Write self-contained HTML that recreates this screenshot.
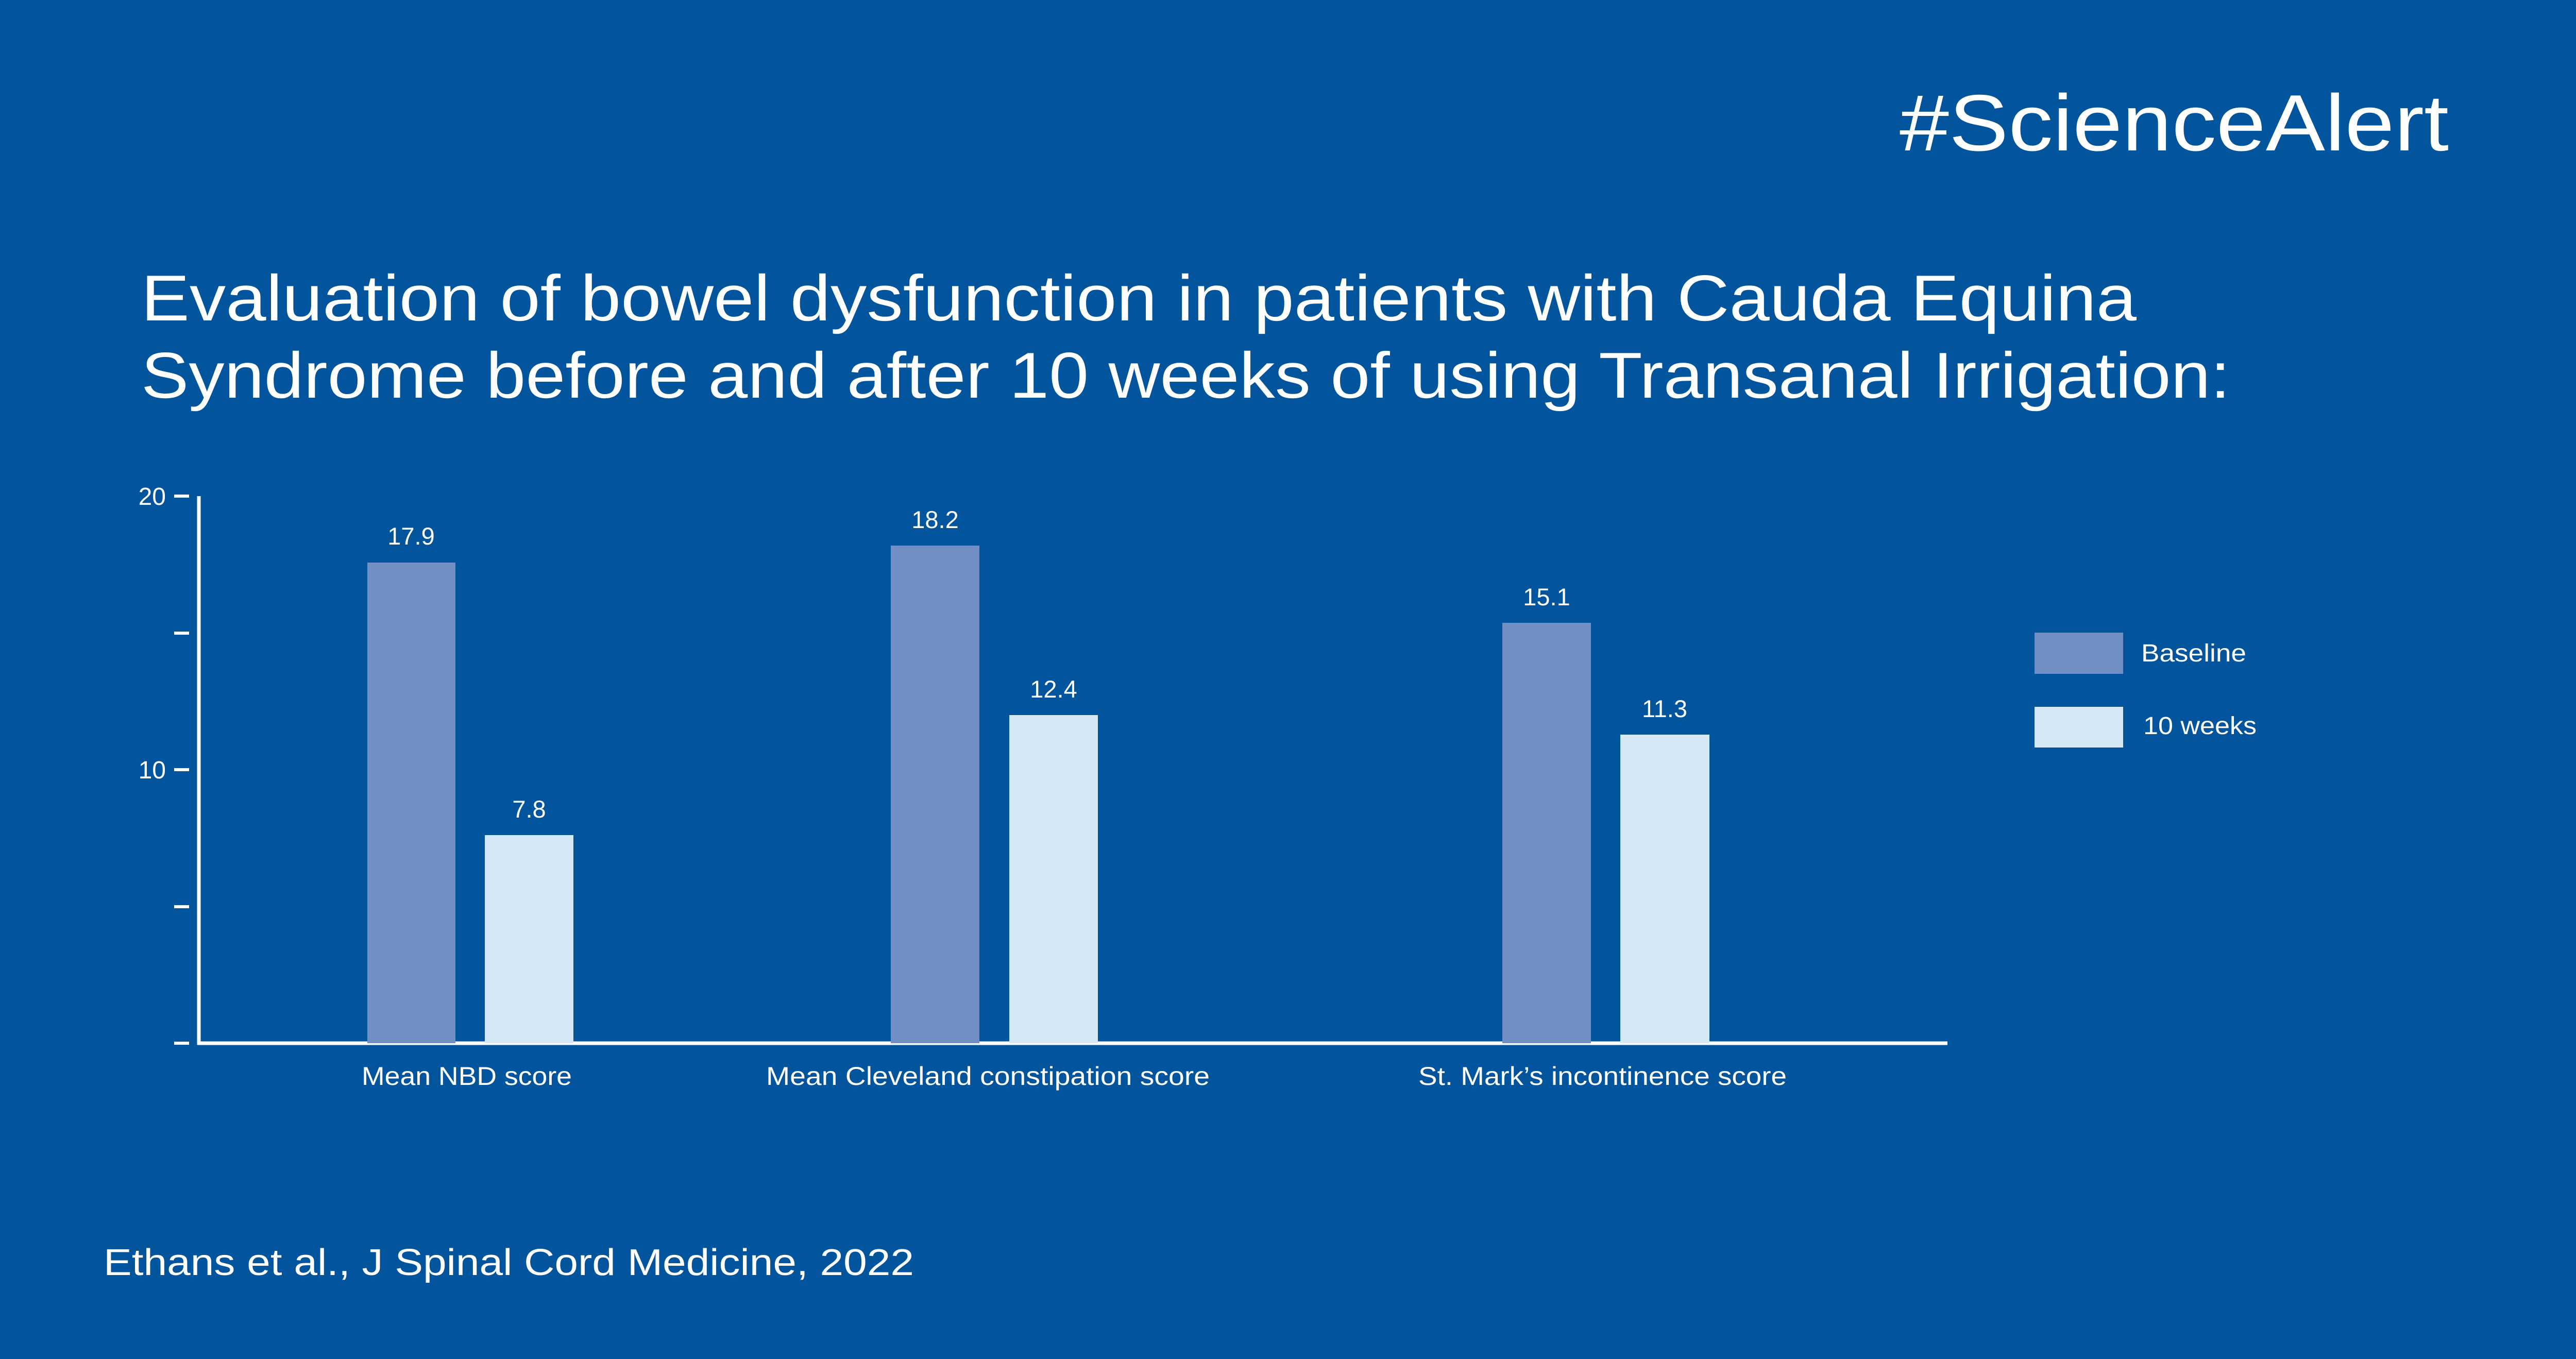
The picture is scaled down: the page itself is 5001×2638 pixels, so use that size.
<!DOCTYPE html>
<html><head><meta charset="utf-8"><style>
html,body{margin:0;padding:0;background:#02559d;}
svg{display:block;}
text{font-family:"Liberation Sans",sans-serif;fill:#fff;}
</style></head><body>
<svg width="5001" height="2638" viewBox="0 0 5001 2638" xmlns="http://www.w3.org/2000/svg">
<rect width="5001" height="2638" fill="#02559d"/>
<text x="3687" y="292" font-size="155" textLength="1066" lengthAdjust="spacingAndGlyphs">#ScienceAlert</text>
<text x="274" y="622" font-size="126" textLength="3873" lengthAdjust="spacingAndGlyphs">Evaluation of bowel dysfunction in patients with Cauda Equina</text>
<text x="274" y="772" font-size="126" textLength="4055" lengthAdjust="spacingAndGlyphs">Syndrome before and after 10 weeks of using Transanal Irrigation:</text>
<line x1="386" y1="963" x2="386" y2="2028" stroke="#fff" stroke-width="7"/>
<line x1="383" y1="2025" x2="3780" y2="2025" stroke="#fff" stroke-width="7"/>
<g stroke="#fff" stroke-width="6">
<line x1="338" y1="963" x2="367" y2="963"/>
<line x1="338" y1="1229" x2="367" y2="1229"/>
<line x1="338" y1="1494" x2="367" y2="1494"/>
<line x1="338" y1="1760" x2="367" y2="1760"/>
<line x1="338" y1="2025" x2="367" y2="2025"/>
</g>
<text x="322" y="980" font-size="48" text-anchor="end">20</text>
<text x="322" y="1511" font-size="48" text-anchor="end">10</text>
<rect x="713" y="1092" width="171" height="933" fill="#718fc4"/>
<rect x="941" y="1621" width="172" height="404" fill="#d5e8f5"/>
<rect x="1729" y="1059" width="172" height="966" fill="#718fc4"/>
<rect x="1959" y="1388" width="172" height="637" fill="#d5e8f5"/>
<rect x="2916" y="1209" width="172" height="816" fill="#718fc4"/>
<rect x="3145" y="1426" width="173" height="599" fill="#d5e8f5"/>
<g font-size="47" text-anchor="middle">
<text x="798" y="1057">17.9</text>
<text x="1027" y="1587">7.8</text>
<text x="1815" y="1025">18.2</text>
<text x="2045" y="1354">12.4</text>
<text x="3002" y="1175">15.1</text>
<text x="3231" y="1392">11.3</text>
</g>
<g font-size="50">
<text x="702" y="2106" textLength="408" lengthAdjust="spacingAndGlyphs">Mean NBD score</text>
<text x="1487" y="2106" textLength="861" lengthAdjust="spacingAndGlyphs">Mean Cleveland constipation score</text>
<text x="2753" y="2106" textLength="715" lengthAdjust="spacingAndGlyphs">St. Mark’s incontinence score</text>
</g>
<rect x="3949" y="1228" width="172" height="80" fill="#718fc4"/>
<rect x="3949" y="1372" width="172" height="79" fill="#d5e8f5"/>
<text x="4156" y="1284" font-size="48" textLength="204" lengthAdjust="spacingAndGlyphs">Baseline</text>
<text x="4160" y="1425" font-size="48" textLength="220" lengthAdjust="spacingAndGlyphs">10 weeks</text>
<text x="201" y="2475" font-size="72" textLength="1573" lengthAdjust="spacingAndGlyphs">Ethans et al., J Spinal Cord Medicine, 2022</text>
</svg>
</body></html>
